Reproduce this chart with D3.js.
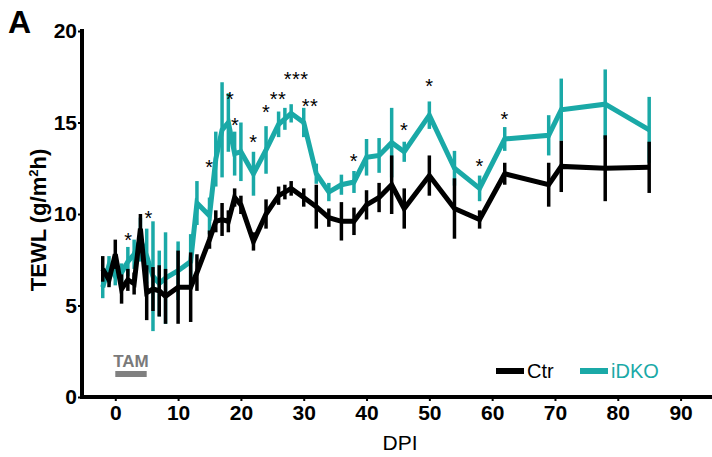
<!DOCTYPE html>
<html>
<head>
<meta charset="utf-8">
<script src="https://cdn.jsdelivr.net/npm/d3@7"></script>
<style>
  body { margin: 0; background: #fff; }
  svg text { font-family: "Liberation Sans", Arial, sans-serif; }
  .narrow { font-family: "Liberation Sans Narrow", "Arial Narrow", "Liberation Sans", sans-serif !important; }
</style>
</head>
<body>
<div id="chart"></div>
<script>
// DPI measured
var days = [-2, -1, 0, 1, 2, 3, 4, 5, 6, 7, 8, 10, 12, 13, 15, 16, 17, 18, 19, 20, 22, 24, 26, 27, 28, 30, 32, 34, 36, 38, 40, 42, 44, 46, 50, 54, 58, 62, 69, 71, 78, 85];
var ctrMean = [7.0, 6.4, 7.8, 5.9, 6.4, 6.2, 9.2, 5.7, 5.9, 5.8, 5.5, 6.0, 6.0, 6.8, 8.6, 9.6, 9.7, 9.6, 10.9, 10.5, 8.5, 10.0, 11.0, 11.2, 11.4, 10.9, 10.4, 9.8, 9.6, 9.6, 10.5, 10.9, 11.6, 10.3, 12.1, 10.3, 9.7, 12.2, 11.6, 12.6, 12.5, 12.55];
var ctrErr = [0.7, 0.4, 0.8, 0.8, 0.6, 0.6, 0.8, 1.5, 1.2, 1.4, 1.5, 2.0, 1.9, 1.0, 0.5, 0.6, 0.9, 0.6, 0.5, 0.5, 0.5, 0.8, 0.5, 0.4, 0.4, 0.5, 1.2, 0.5, 1.05, 0.75, 0.8, 0.8, 1.6, 1.1, 1.1, 1.65, 0.5, 0.6, 1.2, 1.4, 1.8, 1.4];
var koMean = [6.0, 7.2, 6.6, 6.8, 7.4, 7.8, 8.6, 7.7, 6.6, 6.2, 6.5, 6.9, 7.4, 10.6, 9.9, 13.0, 14.6, 15.0, 13.3, 13.4, 12.2, 13.5, 14.9, 15.2, 15.5, 15.0, 12.2, 11.2, 11.6, 11.75, 13.1, 13.2, 13.9, 13.4, 15.4, 12.5, 11.4, 14.1, 14.3, 15.7, 16.0, 14.6];
var koErr = [0.6, 0.5, 0.5, 0.5, 0.8, 0.8, 1.2, 1.5, 3.0, 1.8, 2.5, 1.6, 1.5, 1.2, 1.0, 1.5, 2.6, 1.6, 1.2, 1.6, 1.2, 1.3, 0.7, 0.6, 0.5, 0.8, 0.55, 0.5, 0.55, 0.6, 1.0, 0.95, 1.9, 0.55, 0.75, 0.95, 0.7, 0.65, 1.1, 1.7, 1.9, 1.8];

// significance marks: DPI, stars, level (TEWL units)
var sigDays = [2.1, 5.3, 15, 18.3, 19.1, 22, 24, 25.9, 28.8, 31, 38, 46, 50, 58, 62];
var sigMarks = ["*", "*", "*", "*", "*", "*", "*", "**", "***", "**", "*", "*", "*", "*", "*"];
var sigLevels = [8.8, 10.0, 12.8, 16.5, 15.1, 14.15, 15.8, 16.5, 17.6, 16.1, 13.1, 14.8, 17.2, 12.85, 15.4];

var xTicks = [0, 10, 20, 30, 40, 50, 60, 70, 80, 90];
var yTicks = [0, 5, 10, 15, 20];
var tamPeriod = [0, 5];

var width = 712, height = 457;
var teal = "#1aa9a7";

var svg = d3.select("#chart").append("svg").attr("width", width).attr("height", height);

var x = d3.scaleLinear().domain([-5.3, 95]).range([82, 712]);
var y = d3.scaleLinear().domain([0, 20]).range([397, 31]);

var ctr = days.map(function(d, i) { return {d: d, m: ctrMean[i], e: ctrErr[i]}; });
var ko = days.map(function(d, i) { return {d: d, m: koMean[i], e: koErr[i]}; });

var line = d3.line().x(function(p) { return x(p.d); }).y(function(p) { return y(p.m); });

function drawSeries(data, color) {
  var g = svg.append("g");
  g.selectAll("line").data(data).enter().append("line")
    .attr("x1", function(p) { return x(p.d); })
    .attr("x2", function(p) { return x(p.d); })
    .attr("y1", function(p) { return y(p.m - p.e); })
    .attr("y2", function(p) { return y(p.m + p.e); })
    .attr("stroke", color).attr("stroke-width", 3.5);
  g.append("path").datum(data).attr("d", line)
    .attr("fill", "none").attr("stroke", color).attr("stroke-width", 5)
    .attr("stroke-linejoin", "miter");
}
drawSeries(ko, teal);
drawSeries(ctr, "#000");

// axes
var xAxis = svg.append("g").attr("transform", "translate(0,397)")
  .call(d3.axisBottom(x).tickValues(xTicks).tickSize(4).tickPadding(4).tickSizeOuter(0));
var yAxis = svg.append("g").attr("transform", "translate(82,0)")
  .call(d3.axisLeft(y).tickValues(yTicks).tickSize(4).tickPadding(1).tickSizeOuter(0));
[xAxis, yAxis].forEach(function(a) {
  a.select(".domain").attr("stroke", "#000").attr("stroke-width", 4);
  a.selectAll(".tick line").attr("stroke", "#000").attr("stroke-width", 2);
  a.selectAll(".tick text").attr("class", "narrow").attr("fill", "#000")
    .style("font-size", "21px").style("font-weight", "bold");
});
xAxis.select(".domain").attr("d", "M80,0H712");
yAxis.select(".domain").attr("d", "M0,29V399");

svg.append("text").attr("x", 400).attr("y", 450).attr("text-anchor", "middle")
  .style("font-size", "21px").text("DPI");
svg.append("text").attr("transform", "translate(46,220) rotate(-90)").attr("text-anchor", "middle")
  .style("font-size", "22px").style("font-weight", "bold")
  .html('TEWL (g/m<tspan dy="-8" style="font-size:13px">2</tspan><tspan dy="8">h)</tspan>');
svg.append("text").attr("x", 8).attr("y", 33).style("font-size", "32px").style("font-weight", "bold").text("A");

// significance
svg.append("g").selectAll("text").data(sigDays).enter().append("text")
  .attr("x", function(d) { return x(d); })
  .attr("y", function(d, i) { return y(sigLevels[i]); })
  .attr("dy", "0.55em").attr("text-anchor", "middle")
  .style("font-size", "20px").style("letter-spacing", "0.5px")
  .text(function(d, i) { return sigMarks[i]; });

// TAM
svg.append("line").attr("x1", x(tamPeriod[0])).attr("x2", x(tamPeriod[1]))
  .attr("y1", 374).attr("y2", 374).attr("stroke", "#808080").attr("stroke-width", 6);
svg.append("text").attr("x", (x(tamPeriod[0]) + x(tamPeriod[1])) / 2).attr("y", 367)
  .attr("text-anchor", "middle").attr("fill", "#7a7a7a")
  .style("font-size", "17px").style("font-weight", "bold").text("TAM");

// legend
var legend = svg.append("g");
[["Ctr", "#000", 496], ["iDKO", teal, 580]].forEach(function(l) {
  legend.append("line").attr("x1", l[2]).attr("x2", l[2] + 28).attr("y1", 371).attr("y2", 371)
    .attr("stroke", l[1]).attr("stroke-width", 6);
  legend.append("text").attr("x", l[2] + 31).attr("y", 378).attr("fill", l[1])
    .style("font-size", "20px").text(l[0]);
});
</script>
</body>
</html>
